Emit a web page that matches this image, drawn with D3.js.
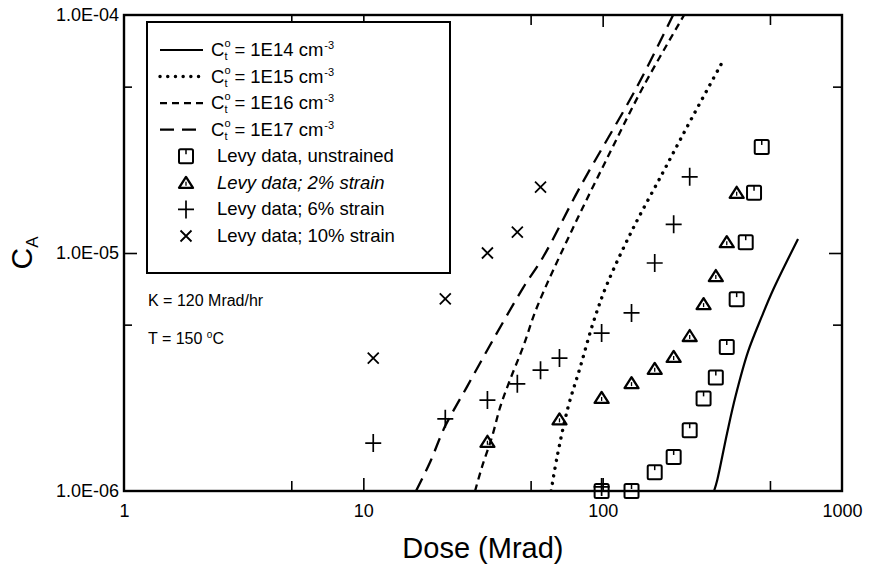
<!DOCTYPE html>
<html>
<head>
<meta charset="utf-8">
<script src="https://cdn.jsdelivr.net/npm/d3@7"></script>
<style>
  body { margin: 0; background: #fff; }
  svg { font-family: "Liberation Sans", Arial, Helvetica, sans-serif; }
</style>
</head>
<body>
<div id="chart"></div>
<script>
// Levy data (dose in Mrad, C_A)
var dose_unstrained = [99, 132, 165, 198, 231, 264, 297, 330, 363, 396, 429, 462];
var ca_unstrained = [1.0e-6, 1.0e-6, 1.2e-6, 1.39e-6, 1.8e-6, 2.45e-6, 3.0e-6, 4.03e-6, 6.4e-6, 1.11e-5, 1.79e-5, 2.79e-5];

var dose_2pct = [33, 66, 99, 132, 165, 198, 231, 264, 297, 330, 363];
var ca_2pct = [1.61e-6, 2.0e-6, 2.46e-6, 2.84e-6, 3.26e-6, 3.66e-6, 4.48e-6, 6.1e-6, 8.0e-6, 1.11e-5, 1.79e-5];

var dose_6pct = [11, 22, 33, 44, 55, 66, 99, 99, 132, 165, 198, 231];
var ca_6pct = [1.59e-6, 2.01e-6, 2.41e-6, 2.82e-6, 3.22e-6, 3.62e-6, 1.04e-6, 4.61e-6, 5.6e-6, 9.08e-6, 1.32e-5, 2.09e-5];

var dose_10pct = [11, 22, 33, 44, 55];
var ca_10pct = [3.62e-6, 6.41e-6, 1.0e-5, 1.225e-5, 1.89e-5];

// model curves
var dose_1e14 = [292, 301, 331, 359, 405, 462, 515, 655];
var ca_1e14 = [1.0e-6, 1.11e-6, 1.75e-6, 2.5e-6, 3.85e-6, 5.4e-6, 6.99e-6, 1.145e-5];

var dose_1e15 = [60.9, 64.5, 71.7, 80.4, 91.2, 104, 133, 179, 225, 318];
var ca_1e15 = [1.0e-6, 1.39e-6, 2.25e-6, 3.29e-6, 5.08e-6, 7.34e-6, 1.25e-5, 2.19e-5, 3.38e-5, 6.41e-5];

var dose_1e16 = [29.3, 31.3, 34.5, 37.3, 41.0, 46.5, 53.2, 74.5, 107, 147.5, 219];
var ca_1e16 = [1.0e-6, 1.26e-6, 1.69e-6, 2.25e-6, 2.93e-6, 4.03e-6, 5.93e-6, 1.25e-5, 2.63e-5, 4.98e-5, 1.0e-4];

var dose_1e17 = [16.6, 19.0, 21.9, 27.1, 34.8, 46.5, 56.4, 80.4, 139, 197];
var ca_1e17 = [1.0e-6, 1.32e-6, 1.86e-6, 2.74e-6, 4.31e-6, 7.13e-6, 9.62e-6, 1.89e-5, 4.98e-5, 1.0e-4];

var x_labels = [1, 10, 100, 1000];
var y_labels = [1e-6, 1e-5, 1e-4];
var y_label_text = ['1.0E-06', '1.0E-05', '1.0E-04'];
var legend_curves = ['1E14', '1E15', '1E16', '1E17'];
var legend_points = ['Levy data, unstrained', 'Levy data; 2% strain', 'Levy data; 6% strain', 'Levy data; 10% strain'];

var W = 874, H = 569;
var margin = {top: 15, right: 32, bottom: 78, left: 124};
var width = W - margin.left - margin.right;
var height = H - margin.top - margin.bottom;

var svg = d3.select('#chart').append('svg')
    .attr('width', W)
    .attr('height', H);

var g = svg.append('g')
    .attr('transform', 'translate(' + margin.left + ',' + margin.top + ')');

var x_scale = d3.scaleLog().domain([1, 1000]).range([0, width]);
var y_scale = d3.scaleLog().domain([1e-6, 1e-4]).range([height, 0]);

g.append('clipPath').attr('id', 'clip')
  .append('rect').attr('width', width).attr('height', height);

// tick marks (inward) on all four sides
function tickAxis(axis, tr) {
    var a = g.append('g').attr('transform', tr).call(axis);
    a.select('.domain').remove();
    a.selectAll('line').attr('stroke', '#000').attr('stroke-width', 1.6);
    a.selectAll('text').remove();
    return a;
}
var xmaj = [10, 100], xmin = [5, 50, 500];
var ymaj = [1e-5], ymin = [5e-6, 5e-5];
tickAxis(d3.axisBottom(x_scale).tickValues(xmaj).tickSize(-13), 'translate(0,' + height + ')');
tickAxis(d3.axisBottom(x_scale).tickValues(xmin).tickSize(-10), 'translate(0,' + height + ')');
tickAxis(d3.axisTop(x_scale).tickValues(xmaj).tickSize(-12), 'translate(0,0)');
tickAxis(d3.axisTop(x_scale).tickValues(xmin).tickSize(-10), 'translate(0,0)');
tickAxis(d3.axisLeft(y_scale).tickValues(ymaj).tickSize(-13), 'translate(0,0)');
tickAxis(d3.axisLeft(y_scale).tickValues(ymin).tickSize(-8), 'translate(0,0)');
tickAxis(d3.axisRight(y_scale).tickValues(ymaj).tickSize(-13), 'translate(' + width + ',0)');
tickAxis(d3.axisRight(y_scale).tickValues(ymin).tickSize(-9), 'translate(' + width + ',0)');

// tick labels
var xlab = g.append('g').attr('transform', 'translate(0,' + height + ')')
    .call(d3.axisBottom(x_scale).tickValues(x_labels).tickSize(0).tickPadding(13).tickFormat(d3.format('d')));
xlab.select('.domain').remove();
xlab.selectAll('text').attr('font-size', 18).attr('font-family', null).attr('fill', '#000');

var ylab = g.append('g')
    .call(d3.axisLeft(y_scale).tickValues(y_labels).tickSize(0).tickPadding(5)
        .tickFormat(function(d, i) { return y_label_text[i]; }));
ylab.select('.domain').remove();
ylab.selectAll('text').attr('font-size', 18).attr('font-family', null).attr('fill', '#000');

// frame
g.append('rect')
    .attr('width', width).attr('height', height)
    .attr('fill', 'none').attr('stroke', '#000').attr('stroke-width', 2.4);

// model curves
var line = d3.line()
    .x(function(d) { return x_scale(d[0]); })
    .y(function(d) { return y_scale(d[1]); })
    .curve(d3.curveCatmullRom.alpha(0.5));

var curves = [
    {dose: dose_1e14, ca: ca_1e14, dash: null, cap: 'butt'},
    {dose: dose_1e15, ca: ca_1e15, dash: '0.1,7.6', cap: 'round'},
    {dose: dose_1e16, ca: ca_1e16, dash: '7,5', cap: 'butt'},
    {dose: dose_1e17, ca: ca_1e17, dash: '14,8', cap: 'butt'}
];
var curveWidths = [2.2, 3.4, 2.3, 2.3];

curves.forEach(function(c, i) {
    g.append('path')
        .datum(d3.zip(c.dose, c.ca))
        .attr('clip-path', 'url(#clip)')
        .attr('d', line)
        .attr('fill', 'none')
        .attr('stroke', '#000')
        .attr('stroke-width', curveWidths[i])
        .attr('stroke-linecap', c.cap)
        .attr('stroke-dasharray', c.dash);
});

// markers
function drawSquare(sel) {
    sel.append('rect').attr('x', -7).attr('y', -7).attr('width', 14).attr('height', 14).attr('rx', 1.5)
        .attr('fill', 'none').attr('stroke', '#000').attr('stroke-width', 2);
    sel.append('line').attr('x1', 0).attr('x2', 0).attr('y1', -7).attr('y2', -2)
        .attr('stroke', '#000').attr('stroke-width', 1.5);
}
function drawTriangle(sel) {
    sel.append('path').attr('d', 'M0,-6L7,5L-7,5Z')
        .attr('fill', 'none').attr('stroke', '#000').attr('stroke-width', 2.3).attr('stroke-linejoin', 'round');
    sel.append('line').attr('x1', 0).attr('x2', 0).attr('y1', -1).attr('y2', 3)
        .attr('stroke', '#000').attr('stroke-width', 1.3);
}
function drawPlus(sel) {
    sel.append('path').attr('d', 'M-8,0H8M0,-9V9')
        .attr('stroke', '#000').attr('stroke-width', 1.7);
}
function drawCross(sel) {
    sel.append('path').attr('d', 'M-5.5,-5.5L5.5,5.5M5.5,-5.5L-5.5,5.5')
        .attr('stroke', '#000').attr('stroke-width', 1.8);
}

var series = [
    {dose: dose_unstrained, ca: ca_unstrained, draw: drawSquare},
    {dose: dose_2pct, ca: ca_2pct, draw: drawTriangle},
    {dose: dose_6pct, ca: ca_6pct, draw: drawPlus},
    {dose: dose_10pct, ca: ca_10pct, draw: drawCross}
];

series.forEach(function(s) {
    g.selectAll(null)
        .data(d3.zip(s.dose, s.ca))
        .enter()
        .append('g')
            .attr('transform', function(d) { return 'translate(' + x_scale(d[0]) + ',' + y_scale(d[1]) + ')'; })
            .each(function() { s.draw(d3.select(this)); });
});

// legend
var leg = svg.append('g');
leg.append('rect')
    .attr('x', 147).attr('y', 22).attr('width', 303).attr('height', 251)
    .attr('fill', '#fff').attr('stroke', '#000').attr('stroke-width', 2);

var rowY = d3.scaleLinear().domain([0, 7]).range([50, 236]);
var fs = 18.5;

legend_curves.forEach(function(lbl, i) {
    var y = rowY(i);
    leg.append('line')
        .attr('x1', 160).attr('x2', 203).attr('y1', y).attr('y2', y)
        .attr('stroke', '#000')
        .attr('stroke-width', curveWidths[i])
        .attr('stroke-linecap', curves[i].cap)
        .attr('stroke-dasharray', curves[i].dash);
    var t = leg.append('g').attr('font-size', fs);
    var c = t.append('text').attr('x', 211).attr('y', y + 6).text('C');
    var cx = 211 + c.node().getComputedTextLength();
    t.append('text').attr('x', cx).attr('y', y + 10).attr('font-size', 11).text('t');
    t.append('text').attr('x', cx).attr('y', y - 3).attr('font-size', 11).text('o');
    var main = t.append('text').attr('x', cx + 10).attr('y', y + 6).text('= ' + lbl + ' cm');
    var len = main.node().getComputedTextLength();
    t.append('text').attr('x', cx + 11 + len).attr('y', y - 1).attr('font-size', 11).text('-3');
});

legend_points.forEach(function(lbl, i) {
    var y = rowY(i + 4);
    var m = leg.append('g').attr('transform', 'translate(186,' + y + ')');
    series[i].draw(m);
    leg.append('text')
        .attr('x', 217).attr('y', y + 6)
        .attr('font-size', fs)
        .attr('font-style', i === 1 ? 'italic' : null)
        .text(lbl);
});

// annotations
svg.append('text').attr('x', 148).attr('y', 306).attr('font-size', 16).text('K = 120 Mrad/hr');
var tt = svg.append('text').attr('x', 148).attr('y', 344).attr('font-size', 16);
tt.append('tspan').text('T = 150 ');
tt.append('tspan').attr('dy', -6).attr('font-size', 10).text('o');
tt.append('tspan').attr('dy', 6).text('C');

// axis titles
svg.append('text')
    .attr('x', margin.left + x_scale(31.6)).attr('y', 558)
    .attr('text-anchor', 'middle')
    .attr('font-size', 29)
    .text('Dose (Mrad)');

var yt = svg.append('text')
    .attr('transform', 'translate(32,' + (margin.top + y_scale(1e-5)) + ') rotate(-90)')
    .attr('text-anchor', 'middle')
    .attr('font-size', 30);
yt.append('tspan').text('C');
yt.append('tspan').attr('dy', 6).attr('font-size', 17).text('A');
</script>
</body>
</html>
